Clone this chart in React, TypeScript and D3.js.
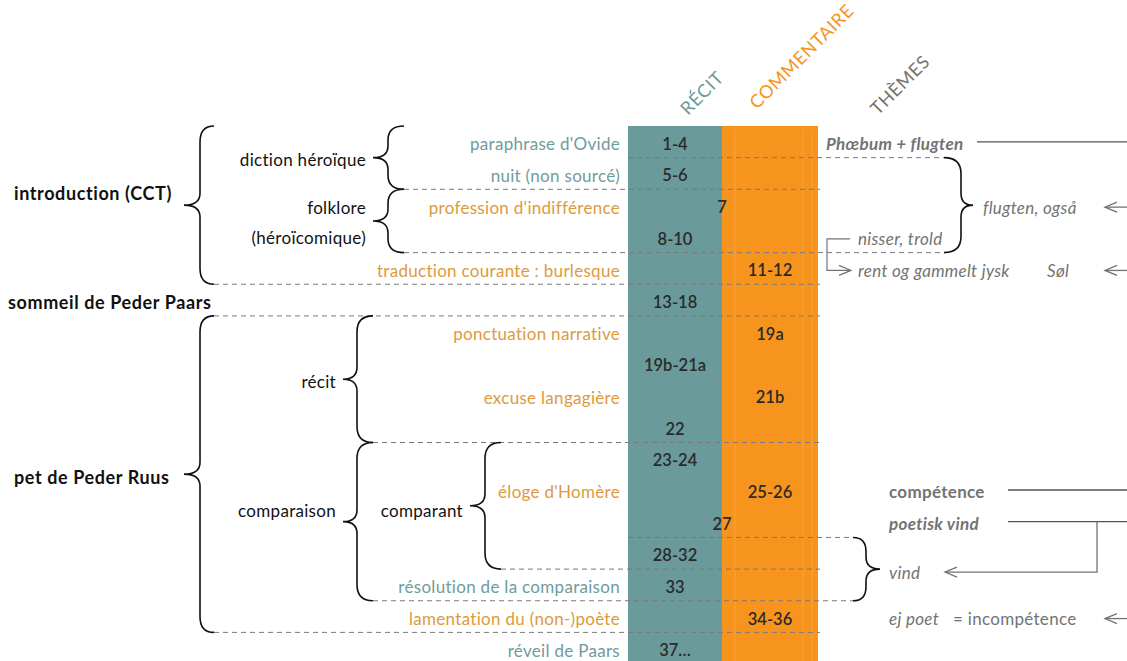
import * as d3 from "d3";

// rows of the text, top to bottom
const rowLabels = [
  "paraphrase d'Ovide",
  "nuit (non sourcé)",
  "profession d'indifférence",
  "",
  "traduction courante : burlesque",
  "",
  "ponctuation narrative",
  "",
  "excuse langagière",
  "",
  "",
  "éloge d'Homère",
  "",
  "",
  "résolution de la comparaison",
  "lamentation du (non-)poète",
  "réveil de Paars",
];
const rowKinds = [
  "recit", "recit", "comm", "", "comm", "", "comm", "", "comm", "", "",
  "comm", "", "", "recit", "comm", "recit",
];
const verses = [
  "1-4", "5-6", "7", "8-10", "11-12", "13-18", "19a", "19b-21a", "21b", "22",
  "23-24", "25-26", "27", "28-32", "33", "34-36", "37…",
];
const verseCols = [
  "recit", "recit", "both", "recit", "comm", "recit", "comm", "recit", "comm", "recit",
  "recit", "comm", "both", "recit", "recit", "comm", "recit",
];

const headers = ["RÉCIT", "COMMENTAIRE", "THÈMES"];

// braces on the left: label lines, first row, end boundary, level
const braces: { label: string[]; from: number; to: number; level: string }[] = [
  { label: ["introduction (CCT)"], from: 0, to: 5, level: "l1" },
  { label: ["pet de Peder Ruus"], from: 6, to: 16, level: "l1" },
  { label: ["diction héroïque"], from: 0, to: 2, level: "l2a" },
  { label: ["folklore", "(héroïcomique)"], from: 2, to: 4, level: "l2a" },
  { label: ["récit"], from: 6, to: 10, level: "l2b" },
  { label: ["comparaison"], from: 10, to: 15, level: "l2b" },
  { label: ["comparant"], from: 10, to: 14, level: "l3" },
];
const standalone = { label: "sommeil de Peder Paars", row: 5 };

// dashed separators: boundary index, start, end
const separators = [
  { at: 1, from: "col", to: "flugten" },
  { at: 2, from: "l2a", to: "colEnd" },
  { at: 4, from: "l2a", to: "flugten" },
  { at: 5, from: "l1", to: "colEnd" },
  { at: 6, from: "l1", to: "colEnd" },
  { at: 10, from: "l2b", to: "colEnd" },
  { at: 13, from: "col", to: "vind" },
  { at: 14, from: "l3", to: "colEnd" },
  { at: 15, from: "l2b", to: "vind" },
  { at: 16, from: "l1", to: "colEnd" },
];

// themes column
const themeTexts = [
  { text: "Phœbum + flugten", row: 0, x: "t0", style: "bi" },
  { text: "flugten, også", row: 2, x: "t2", style: "i" },
  { text: "nisser, trold", row: 3, x: "t1", style: "i" },
  { text: "rent og gammelt jysk", row: 4, x: "t1", style: "i" },
  { text: "Søl", row: 4, x: "t3", style: "i" },
  { text: "compétence", row: 11, x: "t4", style: "b" },
  { text: "poetisk vind", row: 12, x: "t4", style: "bi" },
  { text: "ej poet", row: 15, x: "t4", style: "i" },
  { text: "= incompétence", row: 15, x: "t5", style: "r" },
];
const themeBraces = [
  { label: "flugten", from: 1, to: 4 },
  { label: "vind", from: 13, to: 15 },
];
const vindLabel = { text: "vind", at: 14 };
const themeRules = [
  { row: 0, from: 977 },
  { row: 11, from: 1008 },
  { row: 12, from: 1008 },
];
const inArrows = [2, 4, 15];

const W = 1127;
const H = 661;
const y = d3.scaleBand<number>().domain(d3.range(17)).range([126, 126 + 17 * 31.65]);
const bw = y.bandwidth();
const cy = (i: number) => (y(i) as number) + bw / 2 + 2;
const by = (k: number) => 126 + k * bw;

const colX = d3.scaleOrdinal<string, number>()
  .domain(["recit", "comm", "both"]).range([675, 770, 722]);

const lvl: Record<string, { xt: number; xv: number; xe: number }> = {
  l1: { xt: 184, xv: 200, xe: 214 },
  l2a: { xt: 373, xv: 388, xe: 404 },
  l2b: { xt: 343, xv: 357, xe: 373 },
  l3: { xt: 470, xv: 485, xe: 501 },
  flugten: { xt: 973, xv: 961, xe: 944 },
  vind: { xt: 880, xv: 866, xe: 853 },
};
const sepX: Record<string, number> = {
  l1: 214, l2a: 404, l2b: 373, l3: 501, col: 628, colEnd: 820, flugten: 944, vind: 853,
};
const themeX: Record<string, number> = { t0: 826, t1: 858, t2: 983, t3: 1047, t4: 889, t5: 953 };
// nudges of brace labels relative to the brace middle
const labelNudge: Record<string, number> = {
  "introduction (CCT)": -12, "pet de Peder Ruus": 3, comparaison: -11, comparant: 5,
};

const TEAL = "#6a9a9a";
const ORANGE = "#f7941e";
const TXT_TEAL = "#6f9c9c";
const TXT_ORANGE = "#de9a3c";
const GREY = "#737373";
const FONT = "Lato, 'Open Sans', sans-serif";

function bracePath(y0: number, y1: number, b: { xt: number; xv: number; xe: number }) {
  const p = d3.path();
  const ym = (y0 + y1) / 2;
  const r = Math.min(16, (y1 - y0) / 4.5);
  const rt = Math.min(12, (y1 - y0) / 5);
  p.moveTo(b.xe, y0);
  p.quadraticCurveTo(b.xv, y0, b.xv, y0 + r);
  p.lineTo(b.xv, ym - rt);
  p.quadraticCurveTo(b.xv, ym, b.xt, ym);
  p.quadraticCurveTo(b.xv, ym, b.xv, ym + rt);
  p.lineTo(b.xv, y1 - r);
  p.quadraticCurveTo(b.xv, y1, b.xe, y1);
  return p.toString();
}

function arrowHead(x: number, yy: number, dir: number) {
  const p = d3.path();
  p.moveTo(x + dir * 12, yy - 5);
  p.lineTo(x, yy);
  p.lineTo(x + dir * 12, yy + 5);
  return p.toString();
}

export default function App() {
  const colTop = by(0);
  return (
    <svg width={W} height={H} style={{ position: "absolute", left: 0, top: 0, background: "#fff" }}
      fontFamily={FONT}>
      {/* columns */}
      <rect x={628} y={colTop} width={94} height={H - colTop} fill={TEAL} />
      <rect x={722} y={colTop} width={96} height={H - colTop} fill={ORANGE} />
      {[735, 803, 812].map((x) => (
        <line key={x} x1={x} x2={x} y1={colTop + 4} y2={H} stroke="#fbb25a" strokeWidth={1} opacity={0.5} />
      ))}

      {/* headers */}
      {headers.map((h, i) => {
        const pos = [[688, 116], [757, 110], [878, 116]][i];
        const fill = [TEAL, ORANGE, GREY][i];
        return (
          <text key={h} transform={`translate(${pos[0]},${pos[1]}) rotate(-45)`} fontSize={18}
            fill={fill} letterSpacing={0.6}>{h}</text>
        );
      })}

      {/* separators */}
      {separators.map((s, i) => (
        <line key={i} x1={sepX[s.from]} x2={sepX[s.to]} y1={by(s.at)} y2={by(s.at)}
          stroke="#7a7a7a" strokeWidth={1} strokeDasharray="5,4" />
      ))}

      {/* left braces */}
      {braces.map((b, i) => {
        const y0 = by(b.from);
        const y1 = by(b.to);
        const L = lvl[b.level];
        const ym = (y0 + y1) / 2 + (labelNudge[b.label[0]] ?? 2);
        const bold = b.level === "l1";
        return (
          <g key={i}>
            <path d={bracePath(y0, y1, L)} fill="none" stroke="#111" strokeWidth={1.6} />
            {b.label.map((t, j) => {
              const n = b.label.length;
              const yy = ym + (j - (n - 1) / 2) * 30;
              return bold ? (
                <text key={j} x={14} y={yy} fontSize={18} letterSpacing={0.6}
                  fontWeight="bold" fill="#111" dominantBaseline="central">{t}</text>
              ) : (
                <text key={j} x={L.xt - 7} y={yy} fontSize={17} letterSpacing={0.3} fill="#111"
                  textAnchor="end" dominantBaseline="central">{t}</text>
              );
            })}
          </g>
        );
      })}
      <text x={8} y={cy(standalone.row)} fontSize={18} letterSpacing={0.6} fontWeight="bold" fill="#111"
        dominantBaseline="central">{standalone.label}</text>

      {/* row labels */}
      {rowLabels.map((t, i) => t && (
        <text key={i} x={620} y={cy(i)} fontSize={17} letterSpacing={0.3} textAnchor="end"
          dominantBaseline="central"
          fill={rowKinds[i] === "recit" ? TXT_TEAL : TXT_ORANGE}>{t}</text>
      ))}

      {/* verse numbers */}
      {verses.map((v, i) => (
        <text key={v} x={colX(verseCols[i])} y={cy(i)} fontSize={16.5} fontWeight={600}
          fill="#2a2a2a" textAnchor="middle" dominantBaseline="central">{v}</text>
      ))}

      {/* themes */}
      {themeBraces.map((b) => (
        <path key={b.label} d={bracePath(by(b.from), by(b.to), lvl[b.label])} fill="none"
          stroke="#111" strokeWidth={1.6} />
      ))}
      {themeTexts.map((t, i) => (
        <text key={i} x={themeX[t.x]} y={cy(t.row)} fontSize={17} letterSpacing={0.3} fill={GREY}
          fontStyle={t.style.includes("i") ? "italic" : "normal"}
          fontWeight={t.style.includes("b") ? "bold" : "normal"} dominantBaseline="central">{t.text}</text>
      ))}
      <text x={889} y={by(vindLabel.at) + 3} fontSize={17} letterSpacing={0.3} fill={GREY} fontStyle="italic"
        dominantBaseline="central">{vindLabel.text}</text>

      {themeRules.map((r) => (
        <line key={r.row} x1={r.from} x2={W} y1={cy(r.row) - 2} y2={cy(r.row) - 2} stroke="#555" strokeWidth={1.3} />
      ))}
      {inArrows.map((r) => (
        <g key={r} stroke={GREY} strokeWidth={1.3} fill="none">
          <line x1={1105} x2={W} y1={cy(r)} y2={cy(r)} />
          <path d={arrowHead(1105, cy(r), 1)} />
        </g>
      ))}
      {/* poetisk vind -> vind */}
      <g stroke={GREY} strokeWidth={1.3} fill="none">
        <polyline points={`1097,${cy(12) - 2} 1097,${by(14) + 3} 945,${by(14) + 3}`} />
        <path d={arrowHead(945, by(14) + 3, 1)} />
      </g>
      {/* nisser, trold -> rent og gammelt jysk */}
      <g stroke={GREY} strokeWidth={1.2} fill="none">
        <polyline points={`850,${cy(3)} 827,${cy(3)} 827,${cy(4)} 850,${cy(4)}`} />
        <path d={arrowHead(851, cy(4), -1)} />
      </g>
    </svg>
  );
}
